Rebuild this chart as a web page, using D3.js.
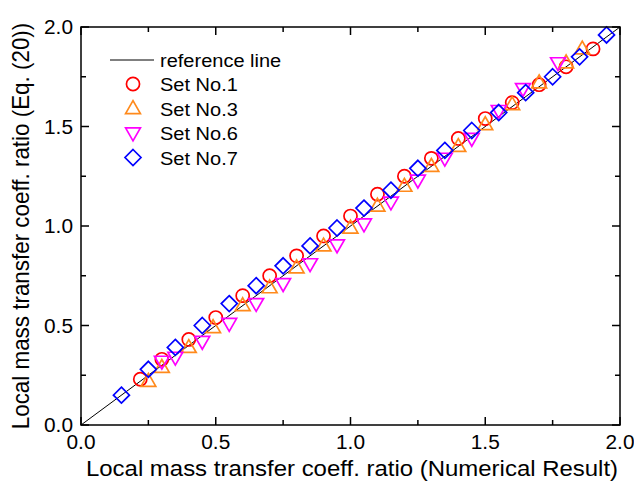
<!DOCTYPE html>
<html><head><meta charset="utf-8">
<script src="https://cdn.jsdelivr.net/npm/d3@7"></script>
<style>body{margin:0;background:#fff}svg{display:block}text{font-family:"Liberation Sans",Arial,sans-serif}</style>
</head><body>
<svg id="c" width="634" height="484"></svg>
<script>
const xTicks = [0, 0.5, 1.0, 1.5, 2.0];
const yTicks = [0, 0.5, 1.0, 1.5, 2.0];
const minorTicks = [0.25, 0.75, 1.25, 1.75];
const refLine = [[0, 0], [2, 2]];

const set1X = [0.22,0.30,0.40,0.50,0.60,0.70,0.80,0.90,1.00,1.10,1.20,1.30,1.40,1.50,1.60,1.70,1.80,1.90];
const set1Y = [0.23,0.33,0.43,0.54,0.65,0.75,0.85,0.95,1.05,1.16,1.25,1.34,1.44,1.54,1.62,1.71,1.80,1.89];
const set3X = [0.25,0.30,0.40,0.49,0.60,0.70,0.80,0.90,1.00,1.10,1.20,1.30,1.40,1.50,1.60,1.70,1.80,1.86];
const set3Y = [0.22,0.29,0.39,0.49,0.60,0.69,0.79,0.90,0.99,1.10,1.20,1.30,1.40,1.51,1.61,1.72,1.82,1.89];
const set6X = [0.30,0.35,0.45,0.55,0.65,0.75,0.85,0.95,1.05,1.15,1.25,1.35,1.45,1.55,1.64,1.77];
const set6Y = [0.32,0.34,0.42,0.51,0.61,0.71,0.81,0.905,1.01,1.12,1.23,1.34,1.44,1.58,1.69,1.82];
const set7X = [0.15,0.25,0.35,0.45,0.55,0.65,0.75,0.85,0.95,1.05,1.15,1.25,1.35,1.45,1.55,1.65,1.75,1.85,1.95];
const set7Y = [0.15,0.28,0.39,0.50,0.61,0.70,0.80,0.90,0.99,1.09,1.18,1.29,1.38,1.48,1.57,1.67,1.75,1.85,1.96];

const seriesNames = ["Set No.1", "Set No.3", "Set No.6", "Set No.7"];

const svg = d3.select("#c");
const L = 81, R = 620, T = 27, B = 425;
const x = d3.scaleLinear().domain([0, 2]).range([L, R]);
const y = d3.scaleLinear().domain([0, 2]).range([B, T]);
const SX = 1.07; // horizontal stretch of text in the reference

function markerPath(type) {
  if (type === "circle") return d3.symbol(d3.symbolCircle, 135)();
  if (type === "tri") { const h = 7.8; return `M0,${-h}L${h*0.95},${h*0.65}L${-h*0.95},${h*0.65}Z`; }
  if (type === "itri") { const h = 7.8; return `M0,${h}L${h*0.95},${-h*0.65}L${-h*0.95},${-h*0.65}Z`; }
  if (type === "dia") { const h = 8; return `M0,${-h}L${h},0L0,${h}L${-h},0Z`; }
}
const series = [
  {name: seriesNames[0], xs: set1X, ys: set1Y, type: "circle", color: "#ff0000"},
  {name: seriesNames[1], xs: set3X, ys: set3Y, type: "tri", color: "#ff8a1c"},
  {name: seriesNames[2], xs: set6X, ys: set6Y, type: "itri", color: "#ff00ff"},
  {name: seriesNames[3], xs: set7X, ys: set7Y, type: "dia", color: "#0000ff"}
];

svg.append("path").attr("d", d3.line().x(d => x(d[0])).y(d => y(d[1]))(refLine))
  .attr("stroke", "#000").attr("stroke-width", 1).attr("fill", "none");

series.forEach(s => {
  svg.append("g").selectAll("path").data(s.xs.map((v, i) => [v, s.ys[i]])).join("path")
    .attr("d", markerPath(s.type))
    .attr("transform", d => `translate(${x(d[0])},${y(d[1])})`)
    .attr("fill", "none").attr("stroke", s.color).attr("stroke-width", 1.7);
});

svg.append("rect").attr("x", L).attr("y", T).attr("width", R - L).attr("height", B - T)
  .attr("fill", "none").attr("stroke", "#000").attr("stroke-width", 1.5);

const tk = svg.append("g").attr("stroke", "#000").attr("stroke-width", 1.5);
xTicks.concat(minorTicks).forEach(v => {
  const len = minorTicks.includes(v) ? 5 : 8;
  tk.append("line").attr("x1", x(v)).attr("x2", x(v)).attr("y1", B).attr("y2", B - len);
  tk.append("line").attr("x1", x(v)).attr("x2", x(v)).attr("y1", T).attr("y2", T + len);
});
yTicks.concat(minorTicks).forEach(v => {
  const len = minorTicks.includes(v) ? 5 : 8;
  tk.append("line").attr("y1", y(v)).attr("y2", y(v)).attr("x1", L).attr("x2", L + len);
  tk.append("line").attr("y1", y(v)).attr("y2", y(v)).attr("x1", R).attr("x2", R - len);
});

function hText(g, px, py, str, fs, anchor) {
  return g.append("text").attr("transform", `translate(${px},${py}) scale(${SX},1)`)
    .attr("text-anchor", anchor || "start").attr("font-size", fs).text(str);
}

const tl = svg.append("g");
xTicks.forEach(d => hText(tl, x(d), 449, d.toFixed(1), 19.5, "middle"));
yTicks.forEach(d => hText(tl, 73, y(d) + 7, d.toFixed(1), 19.5, "end"));

hText(svg, 352, 476, "Local mass transfer coeff. ratio (Numerical Result)", 22.4, "middle");
svg.append("text").attr("transform", "translate(29,226) rotate(-90) scale(1,1.07)").attr("text-anchor", "middle")
  .attr("font-size", 22.4).text("Local mass transfer coeff. ratio (Eq. (20))");

const lg = svg.append("g");
lg.append("line").attr("x1", 110).attr("x2", 154).attr("y1", 60).attr("y2", 60)
  .attr("stroke", "#000").attr("stroke-width", 1);
hText(lg, 160, 67, "reference line", 18.7);
series.forEach((s, i) => {
  const yy = 84 + i * 24.5;
  lg.append("path").attr("d", markerPath(s.type)).attr("transform", `translate(133,${yy})`)
    .attr("fill", "none").attr("stroke", s.color).attr("stroke-width", 1.7);
  hText(lg, 160, yy + 7, s.name, 18.7);
});
</script>
</body></html>
